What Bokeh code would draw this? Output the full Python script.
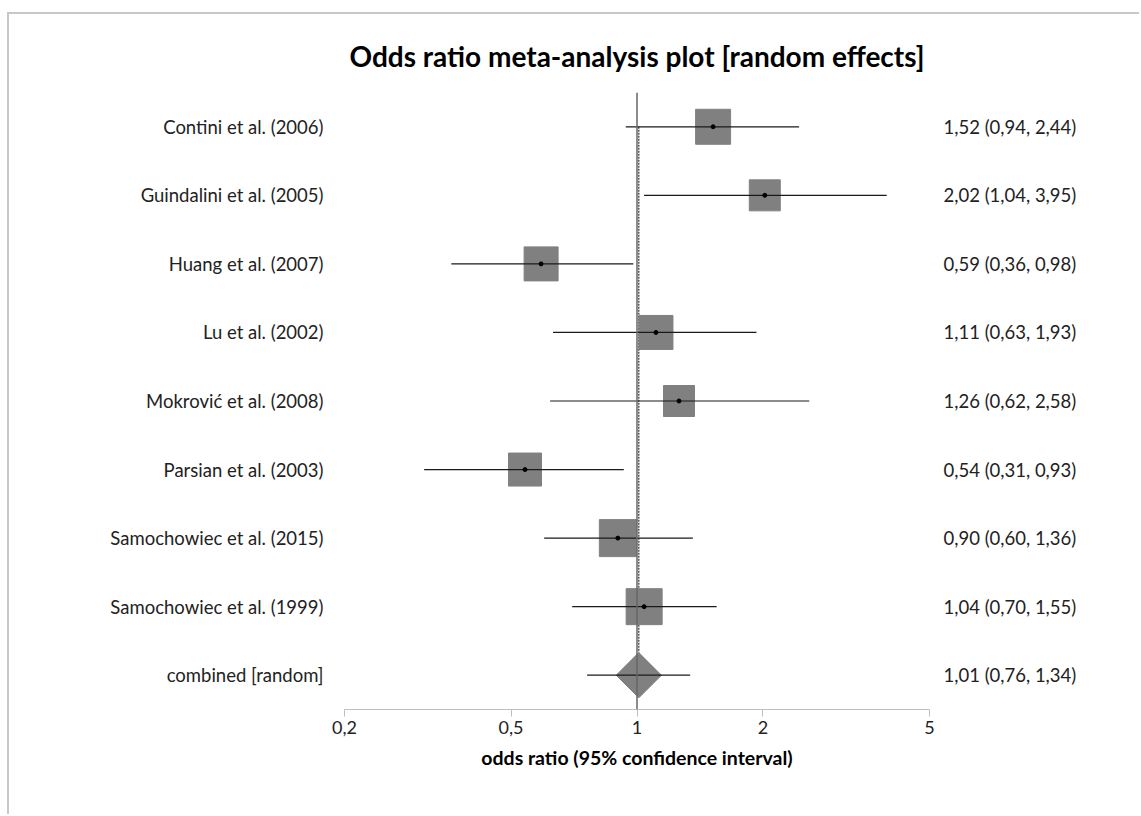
import math
from bokeh.plotting import figure
from bokeh.models import (LinearAxis, FixedTicker, Range1d, Span, ColumnDataSource)
from bokeh.embed import file_html
from bokeh.resources import INLINE

# ---- data ----
studies = ["Contini et al. (2006)", "Guindalini et al. (2005)", "Huang et al. (2007)",
           "Lu et al. (2002)", "Mokrović et al. (2008)", "Parsian et al. (2003)",
           "Samochowiec et al. (2015)", "Samochowiec et al. (1999)", "combined [random]"]
odds_ratio = [1.52, 2.02, 0.59, 1.11, 1.26, 0.54, 0.90, 1.04, 1.01]
ci_lower = [0.94, 1.04, 0.36, 0.63, 0.62, 0.31, 0.60, 0.70, 0.76]
ci_upper = [2.44, 3.95, 0.98, 1.93, 2.58, 0.93, 1.36, 1.55, 1.34]
x_ticks = [0.2, 0.5, 1, 2, 5]
x_tick_labels = ["0,2", "0,5", "1", "2", "5"]
null_value = 1.0

# ---- styles ----
box_px = [35, 31, 34, 34, 31, 33, 37, 36]
diamond_px = 32
FONT = "Lato"
GRAY = "#808080"
OFF_X, OFF_Y, BW = 7, 12, 2   # page offset of the chart box and its border width

n = len(studies)
rows = list(range(n, 0, -1))


def fmt(v):
    return f"{v:.2f}".replace(".", ",")


right_labels = [f"{fmt(o)} ({fmt(l)}, {fmt(u)})" for o, l, u in zip(odds_ratio, ci_lower, ci_upper)]

W = 1141 - OFF_X - BW
H = 816 - OFF_Y - BW
p = figure(width=W, height=H, x_axis_type="log",
           x_range=Range1d(0.2, 5), y_range=Range1d(0.5, n + 0.5),
           output_backend="svg", toolbar_location=None,
           min_border_left=344 - OFF_X - BW, min_border_right=212,
           min_border_top=92 - OFF_Y - BW, min_border_bottom=107)
p.styles = {"margin-left": f"{OFF_X}px", "margin-top": f"{OFF_Y}px",
            "border-left": f"{BW}px solid #c8c8c8", "border-top": f"{BW}px solid #c8c8c8"}
p.outline_line_color = None
p.xgrid.visible = False
p.ygrid.visible = False

# title
p.title.text = "Odds ratio meta-analysis plot [random effects]"
p.title.align = "center"
p.title.text_font = FONT
p.title.text_font_size = "28px"
p.title.text_font_style = "bold"
p.title.text_color = "#000000"
p.title.standoff = 40

# x axis
xa = p.xaxis[0]
xa.ticker = FixedTicker(ticks=x_ticks)
xa.major_label_overrides = {t: l for t, l in zip(x_ticks, x_tick_labels)}
xa.axis_line_color = "#bfbfbf"
xa.major_tick_line_color = "#bfbfbf"
xa.minor_tick_line_color = None
xa.major_tick_out = 7
xa.major_tick_in = 0
xa.major_label_text_font = FONT
xa.major_label_text_font_size = "18px"
xa.major_label_text_color = "#222222"
xa.major_label_standoff = 4
xa.axis_label = "odds ratio (95% confidence interval)"
xa.axis_label_text_font = FONT
xa.axis_label_text_font_size = "19.5px"
xa.axis_label_text_font_style = "bold"
xa.axis_label_text_color = "#000000"
xa.axis_label_standoff = 9

# left axis: study names
ya = p.yaxis[0]
ya.ticker = FixedTicker(ticks=rows)
ya.major_label_overrides = {r: s for r, s in zip(rows, studies)}
ya.axis_line_color = None
ya.major_tick_line_color = None
ya.minor_tick_line_color = None
ya.major_tick_out = 0
ya.major_label_standoff = 21
ya.major_label_text_font = FONT
ya.major_label_text_font_size = "18.5px"
ya.major_label_text_color = "#222222"

# right axis: estimates
ra = LinearAxis(ticker=FixedTicker(ticks=rows))
ra.major_label_overrides = {r: s for r, s in zip(rows, right_labels)}
ra.axis_line_color = None
ra.major_tick_line_color = None
ra.minor_tick_line_color = None
ra.major_tick_out = 0
ra.major_label_standoff = 14
ra.major_label_text_font = FONT
ra.major_label_text_font_size = "18.5px"
ra.major_label_text_color = "#222222"
p.add_layout(ra, "right")

# null line
p.add_layout(Span(location=null_value, dimension="height", line_color="#666666", line_width=1.5))

# dotted line at combined estimate
px_per_row = (709 - 92) / n
p.segment(x0=[odds_ratio[-1]], x1=[odds_ratio[-1]], y0=[rows[0]],
          y1=[rows[-1] + (diamond_px * math.sqrt(2) / 2) / px_per_row],
          line_color="#333333", line_width=1.2, line_dash="2 1")

# study boxes
src = ColumnDataSource(dict(y=rows[:-1], o=odds_ratio[:-1], lo=ci_lower[:-1], hi=ci_upper[:-1], s=box_px))
p.rect(x="o", y="y", width="s", height="s", width_units="screen", height_units="screen",
       source=src, fill_color=GRAY, line_color=GRAY, line_width=1)

# combined diamond
p.scatter(x=[odds_ratio[-1]], y=[rows[-1]], marker="square", angle=math.pi / 4,
          size=diamond_px, fill_color=GRAY, line_color=GRAY)

# CI lines
p.segment(x0=ci_lower, x1=ci_upper, y0=rows, y1=rows, line_color="#1a1a1a", line_width=1.2)

# center dots
p.scatter(x="o", y="y", source=src, size=4, fill_color="black", line_color="black")

open("out.html", "w").write(file_html(p, INLINE))
